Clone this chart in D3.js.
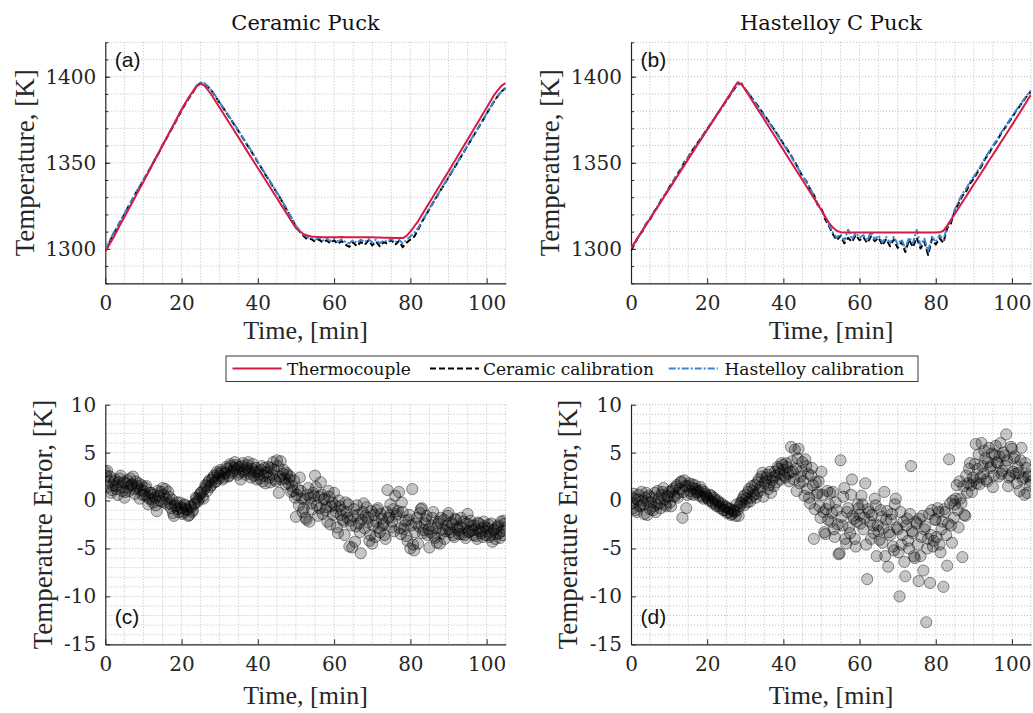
<!DOCTYPE html>
<html>
<head>
<meta charset="utf-8">
<script src="https://cdn.jsdelivr.net/npm/d3@7"></script>
<style>
  body { margin: 0; background: #fff; }
</style>
</head>
<body>
<svg id="fig" width="1033" height="713"></svg>
<script>
// sample times of the temperature traces, [min]
const minutes = [0,1,2,3,4,5,6,7,8,9,10,11,12,13,14,15,16,17,18,19,20,21,22,23,24,25,26,27,28,29,
  30,31,32,33,34,35,36,37,38,39,40,41,42,43,44,45,46,47,48,49,50,51,52,53,54,55,56,57,58,59,
  60,61,62,63,64,65,66,67,68,69,70,71,72,73,74,75,76,77,78,79,80,81,82,83,84,85,86,87,88,89,
  90,91,92,93,94,95,96,97,98,99,100,101,102,103,104,105];

// (a) ceramic puck
const tcCeramicPuck = [1298.5,1302.2,1306.0,1310.2,1314.5,1318.5,1322.5,1326.6,1330.8,1334.9,
  1339.0,1343.2,1347.4,1351.6,1355.8,1360.0,1364.2,1368.4,1372.6,1376.8,
  1381.0,1384.8,1388.5,1391.5,1394.5,1395.8,1394.8,1392.0,1389.0,1385.5,
  1382.0,1378.5,1375.0,1371.5,1368.0,1364.5,1361.0,1357.5,1354.0,1350.5,
  1347.0,1343.5,1340.0,1336.5,1333.0,1329.5,1326.0,1322.5,1319.0,1315.5,
  1312.0,1310.2,1308.5,1307.8,1307.2,1307.0,1306.9,1306.8,1306.8,1306.8,
  1306.8,1306.8,1306.9,1306.8,1306.8,1306.7,1306.8,1306.8,1306.8,1306.7,
  1306.7,1306.6,1306.6,1306.5,1306.5,1306.4,1306.3,1306.3,1306.3,1307.5,
  1310.0,1313.0,1316.0,1319.7,1323.3,1327.0,1330.6,1334.2,1337.8,1341.4,
  1345.0,1348.7,1352.4,1356.1,1359.8,1363.5,1367.2,1370.9,1374.6,1378.3,
  1382.0,1385.8,1389.5,1392.3,1395.0,1396.3];
const ceramicCalCeramicPuck = [1299.0,1303.5,1308.0,1312.0,1316.3,1320.0,1324.4,1328.2,1332.5,1336.0,
  1340.0,1344.0,1347.5,1352.0,1355.6,1360.2,1364.0,1368.0,1372.0,1376.0,
  1380.5,1384.2,1387.7,1391.0,1394.8,1396.3,1396.0,1394.0,1391.5,1388.2,
  1384.8,1381.6,1378.2,1375.0,1371.5,1368.2,1364.6,1361.0,1357.8,1354.0,
  1350.3,1346.8,1343.0,1339.8,1336.0,1332.6,1329.0,1325.0,1321.0,1317.0,
  1313.0,1310.0,1307.5,1305.5,1305.8,1304.2,1305.5,1303.8,1305.0,1303.2,
  1305.0,1302.8,1304.6,1302.5,1301.2,1303.8,1301.5,1304.0,1302.2,1305.0,
  1302.0,1304.3,1301.5,1303.9,1303.0,1305.2,1302.4,1304.6,1301.0,1303.5,
  1305.5,1307.0,1311.0,1315.5,1319.3,1323.2,1327.0,1330.6,1334.3,1337.8,
  1341.5,1345.2,1348.8,1352.5,1356.2,1360.0,1363.6,1367.3,1371.0,1374.6,
  1378.5,1382.2,1385.8,1389.0,1391.6,1393.5];
const hastelloyCalCeramicPuck = [1300.0,1304.0,1308.6,1312.4,1316.0,1320.5,1324.2,1328.6,1332.2,1336.4,
  1340.3,1343.8,1348.0,1351.7,1356.0,1360.0,1364.3,1368.3,1372.3,1376.4,
  1380.7,1384.5,1388.0,1391.4,1395.0,1396.6,1396.2,1394.3,1391.6,1388.5,
  1385.0,1381.8,1378.5,1375.2,1371.8,1368.4,1364.9,1361.3,1358.0,1354.4,
  1350.6,1347.0,1343.4,1340.0,1336.4,1332.8,1329.3,1325.4,1321.3,1317.5,
  1313.4,1310.6,1308.2,1306.8,1306.5,1305.3,1306.6,1304.9,1306.0,1304.5,
  1305.9,1304.2,1305.6,1304.0,1303.2,1305.1,1303.4,1305.3,1303.9,1305.8,
  1303.6,1305.4,1303.3,1305.0,1304.2,1305.9,1303.8,1305.5,1303.0,1305.2,
  1307.2,1309.5,1312.0,1316.0,1319.5,1323.5,1327.2,1331.0,1334.6,1338.2,
  1341.8,1345.4,1349.0,1352.8,1356.4,1360.2,1363.9,1367.5,1371.2,1374.9,
  1378.7,1382.4,1386.0,1389.2,1391.8,1393.6];

// (b) hastelloy C puck
const tcHastelloyPuck = [1300.3,1303.7,1307.2,1310.6,1314.1,1317.5,1321.0,1324.4,1327.9,1331.3,
  1334.7,1338.2,1341.6,1345.1,1348.5,1352.0,1355.4,1358.9,1362.3,1365.8,
  1369.2,1372.6,1376.1,1379.5,1383.0,1386.4,1389.8,1393.5,1396.8,1395.5,
  1392.5,1389.0,1385.5,1382.0,1378.5,1375.0,1371.5,1368.0,1364.5,1361.0,
  1357.5,1354.0,1350.5,1347.0,1343.5,1340.0,1336.5,1333.0,1329.5,1326.0,
  1322.3,1318.6,1315.0,1312.4,1310.5,1309.7,1309.5,1309.5,1309.5,1309.5,
  1309.5,1309.5,1309.5,1309.5,1309.5,1309.5,1309.5,1309.5,1309.5,1309.5,
  1309.5,1309.5,1309.5,1309.5,1309.5,1309.5,1309.5,1309.5,1309.5,1309.5,
  1309.5,1309.6,1310.5,1313.5,1316.9,1320.3,1323.7,1327.2,1330.6,1334.1,
  1337.5,1340.9,1344.4,1347.8,1351.3,1354.7,1358.1,1361.6,1365.0,1368.5,
  1371.9,1375.4,1378.9,1382.5,1386.0,1389.6];
const ceramicCalHastelloyPuck = [1299.2,1303.0,1307.5,1310.2,1314.8,1317.0,1321.6,1324.2,1328.8,1331.6,
  1335.6,1339.0,1342.8,1346.0,1350.2,1353.2,1357.0,1360.0,1363.2,1366.4,
  1369.6,1372.8,1376.0,1379.4,1382.6,1385.8,1389.2,1392.6,1395.4,1396.0,
  1392.6,1389.8,1386.8,1384.0,1380.9,1377.6,1374.5,1371.2,1367.9,1364.6,
  1361.0,1357.8,1354.2,1350.5,1346.6,1342.0,1339.5,1334.8,1331.5,1325.6,
  1323.5,1317.0,1313.2,1308.5,1305.0,1307.6,1303.2,1306.4,1304.0,1308.0,
  1305.0,1306.8,1303.4,1307.2,1304.5,1306.6,1302.0,1305.8,1301.5,1305.5,
  1300.6,1304.0,1298.2,1305.4,1301.0,1306.5,1300.2,1304.2,1296.5,1305.8,
  1302.5,1306.2,1303.5,1312.0,1315.0,1322.0,1326.5,1330.8,1333.5,1338.0,
  1340.8,1344.6,1348.0,1352.4,1355.6,1359.6,1362.5,1366.4,1369.8,1373.0,
  1376.2,1379.8,1382.8,1386.0,1389.0,1391.6];
const hastelloyCalHastelloyPuck = [1300.5,1303.8,1307.0,1311.0,1314.4,1317.8,1321.2,1324.8,1328.2,1331.8,
  1335.2,1338.8,1342.4,1345.6,1349.6,1353.0,1356.4,1359.6,1362.8,1366.0,
  1369.4,1372.6,1376.2,1379.6,1382.8,1386.0,1389.5,1393.0,1395.8,1395.6,
  1392.8,1390.0,1386.6,1383.4,1380.4,1377.2,1374.0,1370.8,1367.4,1364.2,
  1360.6,1357.4,1353.8,1350.0,1346.2,1342.4,1339.0,1335.2,1331.0,1326.4,
  1323.0,1318.0,1314.0,1309.4,1306.5,1308.6,1304.8,1311.2,1305.4,1309.2,
  1306.6,1308.0,1304.8,1309.8,1305.6,1307.8,1303.8,1306.9,1303.5,1307.0,
  1302.6,1305.5,1300.4,1306.6,1303.2,1311.0,1302.0,1306.0,1298.8,1307.0,
  1304.0,1308.0,1305.0,1313.0,1316.5,1323.0,1327.5,1332.0,1335.0,1339.0,
  1342.0,1345.5,1349.0,1353.0,1356.5,1360.0,1363.2,1367.0,1370.2,1373.6,
  1376.8,1380.2,1383.2,1386.4,1389.4,1392.0];

// sample times of the error scatter, [min] (two interleaved sets)
const errorTimes = [0,0.5,1,1.5,2,2.5,3,3.5,4,4.5,5,5.5,6,6.5,7,7.5,8,8.5,9,9.5,
  10,10.5,11,11.5,12,12.5,13,13.5,14,14.5,15,15.5,16,16.5,17,17.5,18,18.5,19,19.5,
  20,20.5,21,21.5,22,22.5,23,23.5,24,24.5,25,25.5,26,26.5,27,27.5,28,28.5,29,29.5,
  30,30.5,31,31.5,32,32.5,33,33.5,34,34.5,35,35.5,36,36.5,37,37.5,38,38.5,39,39.5,
  40,40.5,41,41.5,42,42.5,43,43.5,44,44.5,45,45.5,46,46.5,47,47.5,48,48.5,49,49.5,
  50,50.5,51,51.5,52,52.5,53,53.5,54,54.5,55,55.5,56,56.5,57,57.5,58,58.5,59,59.5,
  60,60.5,61,61.5,62,62.5,63,63.5,64,64.5,65,65.5,66,66.5,67,67.5,68,68.5,69,69.5,
  70,70.5,71,71.5,72,72.5,73,73.5,74,74.5,75,75.5,76,76.5,77,77.5,78,78.5,79,79.5,
  80,80.5,81,81.5,82,82.5,83,83.5,84,84.5,85,85.5,86,86.5,87,87.5,88,88.5,89,89.5,
  90,90.5,91,91.5,92,92.5,93,93.5,94,94.5,95,95.5,96,96.5,97,97.5,98,98.5,99,99.5,
  100,100.5,101,101.5,102,102.5,103,103.5,104,104.5,105];
const errorTimesB = [0.25,0.75,1.25,1.75,2.25,2.75,3.25,3.75,4.25,4.75,5.25,5.75,6.25,6.75,7.25,7.75,8.25,8.75,9.25,9.75,
  10.25,10.75,11.25,11.75,12.25,12.75,13.25,13.75,14.25,14.75,15.25,15.75,16.25,16.75,17.25,17.75,18.25,18.75,19.25,19.75,
  20.25,20.75,21.25,21.75,22.25,22.75,23.25,23.75,24.25,24.75,25.25,25.75,26.25,26.75,27.25,27.75,28.25,28.75,29.25,29.75,
  30.25,30.75,31.25,31.75,32.25,32.75,33.25,33.75,34.25,34.75,35.25,35.75,36.25,36.75,37.25,37.75,38.25,38.75,39.25,39.75,
  40.25,40.75,41.25,41.75,42.25,42.75,43.25,43.75,44.25,44.75,45.25,45.75,46.25,46.75,47.25,47.75,48.25,48.75,49.25,49.75,
  50.25,50.75,51.25,51.75,52.25,52.75,53.25,53.75,54.25,54.75,55.25,55.75,56.25,56.75,57.25,57.75,58.25,58.75,59.25,59.75,
  60.25,60.75,61.25,61.75,62.25,62.75,63.25,63.75,64.25,64.75,65.25,65.75,66.25,66.75,67.25,67.75,68.25,68.75,69.25,69.75,
  70.25,70.75,71.25,71.75,72.25,72.75,73.25,73.75,74.25,74.75,75.25,75.75,76.25,76.75,77.25,77.75,78.25,78.75,79.25,79.75,
  80.25,80.75,81.25,81.75,82.25,82.75,83.25,83.75,84.25,84.75,85.25,85.75,86.25,86.75,87.25,87.75,88.25,88.75,89.25,89.75,
  90.25,90.75,91.25,91.75,92.25,92.75,93.25,93.75,94.25,94.75,95.25,95.75,96.25,96.75,97.25,97.75,98.25,98.75,99.25,99.75,
  100.25,100.75,101.25,101.75,102.25,102.75,103.25,103.75,104.25,104.75];

// (c) error of the ceramic puck, [K]
const errorCeramic = [3.0,3.1,2.0,0.8,1.6,2.2,1.2,1.9,2.6,1.0,0.3,1.8,1.4,2.3,1.7,1.2,2.0,1.5,0.2,1.6,
  1.0,1.3,0.4,0.2,0.8,-0.2,0.3,-1.1,0.5,0.9,1.3,-0.2,0.2,0.9,-0.3,0.1,-1.6,-0.5,-0.9,-0.2,
  -0.8,-1.2,-0.5,-1.0,-1.5,-0.7,-1.0,-0.3,0.2,0.1,0.8,0.4,1.2,1.5,1.9,1.4,2.2,2.6,2.0,2.8,
  2.6,3.0,2.4,2.9,3.3,2.6,3.6,3.1,4.0,3.3,3.5,2.2,3.9,3.2,3.4,4.0,2.8,3.3,2.6,3.4,
  3.0,2.3,3.6,2.6,1.8,3.0,2.4,3.4,4.0,2.2,4.2,0.8,4.1,2.8,2.3,2.9,1.8,2.5,1.5,2.1,
  -1.7,1.2,2.4,0.2,-0.8,-1.8,0.6,-2.2,-0.3,0.8,2.6,-0.5,0.4,1.9,-1.4,0.2,-0.7,1.0,-2.5,-0.2,
  0.8,-1.2,-3.4,-0.6,-1.0,-2.2,-0.2,-1.8,-4.8,-2.6,-1.6,-4.3,-0.5,-2.4,-5.5,-1.2,-2.9,-0.7,-1.8,-3.6,
  -4.5,-1.5,-2.2,-0.8,-3.3,-1.9,-2.4,-4.0,1.1,-1.6,-2.8,-0.9,0.5,-1.4,0.9,-3.5,-1.2,-2.6,-3.7,-2.0,
  -5.0,1.2,-5.2,-2.4,-4.5,-1.3,-0.8,-3.1,-2.0,-3.6,-4.9,-2.6,-1.2,-3.9,-4.4,-2.2,-1.8,-3.0,-4.0,-2.6,
  -1.3,-3.3,-2.5,-3.8,-2.0,-3.1,-2.7,-3.5,-2.2,-3.9,-1.4,-3.2,-2.6,-3.6,-3.0,-4.0,-2.4,-3.4,-3.8,-2.7,
  -3.2,-2.5,-3.6,-4.3,-3.0,-3.5,-2.6,-3.9,-3.2,-2.1,-2.8];
const errorCeramicB = [2.6,1.4,2.5,1.1,2.0,1.5,0.6,2.3,1.4,1.9,0.9,2.1,1.0,1.6,2.5,0.7,1.3,1.8,1.1,0.6,
  0.6,1.5,-0.4,0.8,0.1,0.6,-0.5,1.0,0.0,-0.1,0.6,1.2,-0.4,0.4,-0.8,-1.3,-0.6,-0.2,-1.2,-0.7,
  -1.4,-0.4,-0.9,-1.6,-0.6,-1.2,-0.4,0.3,-0.1,0.6,0.9,0.2,1.6,1.0,2.1,1.6,2.4,1.9,3.0,2.3,
  3.2,2.2,2.8,3.5,2.5,3.8,2.9,3.4,3.7,2.7,2.9,3.6,3.0,2.7,3.7,3.1,2.4,3.8,3.0,2.2,
  2.7,3.2,2.0,3.4,2.9,3.5,1.9,2.7,3.2,2.0,3.6,2.5,2.2,3.2,1.7,2.7,2.2,0.9,1.0,0.3,
  0.6,-0.5,1.0,-1.2,0.1,-2.0,1.3,0.3,-0.9,0.5,1.4,-1.6,-0.8,0.6,0.1,-1.0,-2.2,0.4,-0.6,-1.5,
  -0.5,-2.8,0.0,-1.5,-2.0,-3.6,-1.2,-0.4,-2.1,-4.9,-0.9,-2.7,-1.5,-3.3,-2.0,-0.3,-1.6,-2.3,-4.2,-1.1,
  -2.6,-3.8,-1.0,-2.9,-1.4,-2.6,-3.6,-1.2,-1.8,-0.4,-2.2,-3.2,-1.6,-1.1,-2.9,-0.2,-3.0,-2.1,-4.2,-1.5,
  -2.6,-4.6,-3.3,-1.8,-2.7,-0.9,-3.4,-2.4,-1.6,-3.0,-3.3,-1.8,-3.7,-2.9,-2.4,-4.5,-3.4,-2.0,-3.2,-1.6,
  -3.0,-2.3,-3.6,-1.9,-2.9,-3.5,-1.8,-2.9,-3.6,-2.4,-3.3,-2.1,-3.1,-2.6,-3.7,-2.3,-3.2,-2.9,-2.2,-3.6,
  -2.9,-3.8,-2.4,-3.1,-4.0,-2.8,-3.4,-2.2,-3.6,-2.4];

// (d) error of the hastelloy C puck, [K]
const errorHastelloy = [0.4,-0.8,0.2,-1.2,0.6,-0.5,0.0,-1.4,0.8,-0.2,-0.9,0.3,-0.6,-1.2,1.0,-0.3,0.6,1.3,-0.4,0.5,
  0.9,-0.6,1.2,0.4,1.6,0.8,1.9,-1.8,2.1,-0.8,1.5,1.0,1.7,0.6,1.2,0.9,0.5,1.1,0.2,0.7,
  0.3,0.0,0.5,-0.3,0.1,-0.6,-0.2,-0.8,-0.5,-1.0,-0.7,-1.2,-0.9,-1.4,-1.1,-1.6,-1.0,-0.6,-0.3,0.4,
  0.6,-0.2,1.2,0.3,1.0,1.6,0.7,2.2,1.4,2.9,1.8,2.4,1.2,3.0,2.1,1.5,2.6,3.5,2.8,3.9,
  3.2,2.4,3.5,2.0,5.6,3.0,5.3,1.0,5.4,2.5,4.0,0.5,3.6,2.8,-0.3,3.4,-4.0,1.9,0.8,-0.6,
  3.0,-1.2,-3.5,1.0,-0.4,-2.2,0.9,-3.8,-1.0,-5.6,4.2,-2.6,1.3,-4.5,-0.8,-3.4,2.2,-1.9,-4.8,-0.4,
  -1.5,0.5,-3.0,1.8,-8.2,-1.2,-4.0,-2.6,0.2,-5.8,-3.2,-1.0,-4.4,0.9,-2.0,-6.9,-3.6,-1.4,-5.2,0.2,
  -3.0,-10.0,-4.6,-2.2,-7.9,-1.9,-5.0,3.6,-3.4,-6.0,-2.4,-8.4,-5.8,-1.6,-3.0,-12.7,-4.0,-8.6,-1.0,-4.2,
  -2.0,-0.8,-4.6,-3.0,-9.0,-1.2,-6.8,4.3,-2.6,0.0,-0.4,1.6,-2.8,0.2,-5.9,-1.5,2.6,1.8,3.9,0.9,
  2.1,5.9,3.3,1.7,6.0,2.8,4.4,2.0,5.5,3.6,1.4,4.8,4.0,2.5,6.0,3.1,4.7,6.9,1.5,2.6,
  5.4,4.4,2.8,3.5,1.0,5.5,2.4,3.9,0.8,2.7,2.0];
const errorHastelloyB = [-0.3,0.7,-1.0,0.1,-0.6,0.9,-0.4,0.3,-1.5,0.5,-0.2,-1.0,0.8,-0.4,0.2,-0.8,0.9,0.1,-0.6,0.4,
  -0.2,1.0,0.5,1.4,0.3,1.2,2.0,0.9,1.5,0.6,1.8,0.7,1.3,1.6,0.8,1.0,1.4,0.4,0.9,0.5,
  0.2,0.6,-0.1,0.3,-0.4,0.0,-0.6,-0.3,-1.0,-0.6,-1.3,-0.8,-1.5,-1.0,-1.2,-0.4,-1.6,-0.2,0.1,-0.5,
  0.2,0.9,-0.1,1.5,0.6,0.3,1.9,1.0,2.5,0.4,2.0,2.7,1.6,0.8,2.4,3.0,1.9,3.3,2.2,3.7,
  2.6,3.9,2.8,3.0,4.1,2.2,3.3,4.4,1.8,3.1,2.0,4.3,1.2,0.3,2.6,1.6,-0.9,0.6,2.0,-1.8,
  0.6,-3.3,-0.9,-2.0,0.8,-1.3,-3.0,-0.2,-2.5,-5.5,-1.7,0.4,-4.0,-1.2,-2.8,0.6,-1.6,-4.0,-2.2,-0.8,
  -2.4,-0.4,-1.8,-4.6,-0.9,-2.2,-1.5,-3.4,-0.5,-2.6,-4.1,-1.7,-2.9,-5.8,-1.1,-3.3,-2.0,-4.8,-0.4,-2.8,
  -5.4,-1.2,-3.6,-6.4,-2.6,-4.2,-1.4,-3.2,-5.8,-2.2,-4.6,-1.9,-3.8,-7.3,-2.7,-5.0,-1.4,-3.6,-4.8,-2.0,
  -3.8,-1.2,-5.4,-2.2,-0.9,-3.6,-2.4,-0.3,-4.4,-1.8,0.2,-1.0,2.0,-0.3,1.5,-1.6,0.8,3.3,1.6,2.4,
  3.8,1.8,4.8,2.4,3.6,5.2,2.2,4.0,3.4,4.9,2.6,5.7,3.9,4.6,2.8,5.0,3.6,4.2,2.4,5.6,
  3.0,4.6,1.8,2.9,4.2,2.2,0.6,3.4,2.5,1.6];

// ticks, titles, labels
const timeTicks = [0, 20, 40, 60, 80, 100];
const tempTicks = [1300, 1350, 1400];
const errTicks = [-15, -10, -5, 0, 5, 10];
const titles = ["Ceramic Puck", "Hastelloy C Puck"];
const panelLetters = ["(a)", "(b)", "(c)", "(d)"];
const legendNames = ["Thermocouple", "Ceramic calibration", "Hastelloy calibration"];

// fonts and colours
const serif = "'DejaVu Serif', serif";
const texFont = "'Liberation Serif', 'Times New Roman', serif";
const sans = "'Liberation Sans', Arial, sans-serif";
const axisColor = "#262626";
const tcColor = "#d91a45";
const blueColor = "#3b86cf";

const fig = d3.select("#fig");

// plot boxes of the four axes (pixels)
const boxes = [
  {left: 105.3, right: 505.7, top: 42.3, bottom: 283.3},
  {left: 631, right: 1031, top: 42.3, bottom: 283.3},
  {left: 105.3, right: 505.7, top: 404.7, bottom: 644.3},
  {left: 631, right: 1031, top: 404.7, bottom: 644.3}
];

// draws grid, axes and labels of one panel; returns its scales
function drawFrame(i, yDomain, yTicks, yGrid, yMinorTicks, yLabel) {
  const b = boxes[i];
  const x = d3.scaleLinear().domain([0, 105]).range([b.left, b.right]);
  const y = d3.scaleLinear().domain(yDomain).range([b.bottom, b.top]);
  const g = fig.append("g");

  g.append("clipPath").attr("id", "clip" + i)
    .append("rect")
    .attr("x", b.left).attr("y", b.top)
    .attr("width", b.right - b.left).attr("height", b.bottom - b.top);

  // dotted grid
  g.selectAll(".vgrid").data(d3.range(5, 106, 5)).join("line")
    .attr("class", "vgrid")
    .attr("x1", d => x(d)).attr("x2", d => x(d))
    .attr("y1", b.top).attr("y2", b.bottom)
    .attr("stroke", "#bdbdbd").attr("stroke-width", 1).attr("stroke-dasharray", "1,2");
  g.selectAll(".hgrid").data(yGrid).join("line")
    .attr("class", "hgrid")
    .attr("x1", b.left).attr("x2", b.right)
    .attr("y1", d => y(d)).attr("y2", d => y(d))
    .attr("stroke", "#bdbdbd").attr("stroke-width", 1).attr("stroke-dasharray", "1,2");

  // x axis, ticks pointing inward
  const xa = g.append("g")
    .attr("transform", `translate(0,${b.bottom})`)
    .call(d3.axisBottom(x).tickValues(timeTicks).tickSizeInner(-5).tickSizeOuter(0)
      .tickPadding(13).tickFormat(d => String(d)));
  // y axis
  const ya = g.append("g")
    .attr("transform", `translate(${b.left},0)`)
    .call(d3.axisLeft(y).tickValues(yTicks).tickSizeInner(-5).tickSizeOuter(0)
      .tickPadding(9).tickFormat(d => String(d)));
  if (yMinorTicks) {
    g.append("g")
      .attr("transform", `translate(${b.left},0)`)
      .call(d3.axisLeft(y).tickValues(yMinorTicks).tickSizeInner(-3).tickSizeOuter(0).tickFormat(""))
      .call(a => a.select(".domain").remove())
      .selectAll("line").attr("stroke", axisColor);
  }
  [xa, ya].forEach(a => {
    a.select(".domain").attr("stroke", axisColor).attr("stroke-width", 1.2);
    a.selectAll(".tick line").attr("stroke", axisColor);
    a.selectAll("text")
      .attr("font-family", serif).attr("font-size", 20).attr("fill", axisColor);
  });

  // axis titles
  const yLabelX = i % 2 === 0 ? (i < 2 ? 25 : 43) : (i < 2 ? 550 : 568);
  g.append("text")
    .attr("transform", `translate(${yLabelX},${(b.top + b.bottom) / 2}) rotate(-90)`)
    .attr("text-anchor", "middle").attr("dominant-baseline", "central")
    .attr("font-family", texFont).attr("font-size", 27).attr("fill", axisColor)
    .text(yLabel);
  g.append("text")
    .attr("x", (b.left + b.right) / 2)
    .attr("y", i < 2 ? 339 : 704)
    .attr("text-anchor", "middle")
    .attr("font-family", texFont).attr("font-size", 26).attr("fill", axisColor)
    .text("Time, [min]");

  // panel letter
  g.append("text")
    .attr("x", b.left + 9.5)
    .attr("y", i < 2 ? 66.5 : 624)
    .attr("font-family", sans).attr("font-size", 21).attr("fill", "#111")
    .text(panelLetters[i]);

  return {x, y, g};
}

const tempGrid = d3.range(1280, 1421, 10);
const errGrid = d3.range(-15, 11, 1);

// top row: temperature traces
const tempSets = [
  [tcCeramicPuck, ceramicCalCeramicPuck, hastelloyCalCeramicPuck],
  [tcHastelloyPuck, ceramicCalHastelloyPuck, hastelloyCalHastelloyPuck]
];
const lineStyles = [
  {stroke: tcColor, width: 2, dash: null},
  {stroke: "#000", width: 2, dash: "6,3"},
  {stroke: blueColor, width: 2, dash: "7,2,2,2"}
];
const drawOrder = [1, 2, 0];

tempSets.forEach((set, i) => {
  const p = drawFrame(i, [1280, 1420], tempTicks, tempGrid, tempGrid, "Temperature, [K]");
  const line = d3.line().x((d, k) => p.x(minutes[k])).y(d => p.y(d));
  const lg = p.g.append("g").attr("clip-path", `url(#clip${i})`);
  drawOrder.forEach(s => {
    lg.append("path")
      .datum(set[s])
      .attr("d", line)
      .attr("fill", "none")
      .attr("stroke", lineStyles[s].stroke)
      .attr("stroke-width", lineStyles[s].width)
      .attr("stroke-dasharray", lineStyles[s].dash)
      .attr("stroke-linejoin", "round");
  });
  fig.append("text")
    .attr("x", (boxes[i].left + boxes[i].right) / 2)
    .attr("y", 30)
    .attr("text-anchor", "middle")
    .attr("font-family", serif).attr("font-size", 21).attr("fill", "#111")
    .text(titles[i]);
});

// bottom row: error scatter
const errorSets = [
  [errorCeramic, errorCeramicB],
  [errorHastelloy, errorHastelloyB]
];
errorSets.forEach((sets, j) => {
  const i = j + 2;
  const p = drawFrame(i, [-15, 10], errTicks, errGrid, null, "Temperature Error, [K]");
  const pts = errorTimes.map((t, k) => [t, sets[0][k]])
    .concat(errorTimesB.map((t, k) => [t, sets[1][k]]));
  p.g.append("g").attr("clip-path", `url(#clip${i})`)
    .selectAll("circle").data(pts).join("circle")
    .attr("cx", d => p.x(d[0]))
    .attr("cy", d => p.y(d[1]))
    .attr("r", 5.6)
    .attr("fill", "#000").attr("fill-opacity", 0.22)
    .attr("stroke", "#000").attr("stroke-opacity", 0.42).attr("stroke-width", 1);
});

// legend
const legend = fig.append("g");
legend.append("rect")
  .attr("x", 226).attr("y", 356).attr("width", 692).attr("height", 25.5)
  .attr("fill", "#fff").attr("stroke", "#3a3a3a").attr("stroke-width", 1);
const legendItems = [
  {x1: 232.5, x2: 281.6, tx: 287},
  {x1: 430, x2: 479, tx: 483},
  {x1: 668.7, x2: 717.8, tx: 724.5}
];
legendItems.forEach((it, s) => {
  legend.append("line")
    .attr("x1", it.x1).attr("x2", it.x2).attr("y1", 368.5).attr("y2", 368.5)
    .attr("stroke", lineStyles[s].stroke)
    .attr("stroke-width", lineStyles[s].width)
    .attr("stroke-dasharray", lineStyles[s].dash);
  legend.append("text")
    .attr("x", it.tx).attr("y", 374.5)
    .attr("font-family", serif).attr("font-size", 17).attr("fill", "#111")
    .text(legendNames[s]);
});
</script>
</body>
</html>
